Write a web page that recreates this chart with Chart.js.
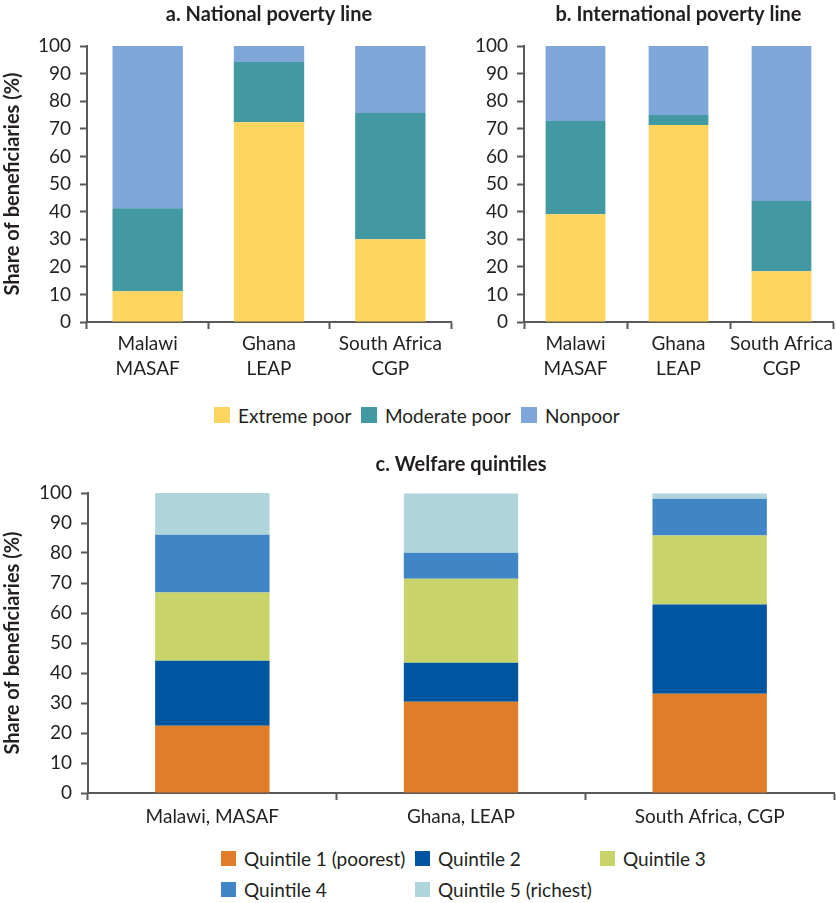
<!DOCTYPE html>
<html>
<head>
<meta charset="utf-8">
<script src="https://cdn.jsdelivr.net/npm/chart.js@4.4.0/dist/chart.umd.min.js"></script>
<style>
  body { margin: 0; background: #fff; }
  #page { position: relative; width: 836px; height: 903px; background: #fff; font-family: Lato, "Open Sans", sans-serif; color: #231f20; }
  canvas { position: absolute; }
  .leg { position: absolute; display: flex; align-items: center; font-size: 19px; white-space: nowrap; }
  .leg i { display: inline-block; margin-right: 8px; }
</style>
</head>
<body>
<div id="page">
  <canvas id="national" width="460" height="400" style="left:0;top:0"></canvas>
  <canvas id="international" width="376" height="400" style="left:460px;top:0"></canvas>
  <canvas id="quintiles" width="836" height="400" style="left:0;top:440px"></canvas>
</div>
<script>
// categories and values (percent of beneficiaries)
const programs = [['Malawi', 'MASAF'], ['Ghana', 'LEAP'], ['South Africa', 'CGP']];
const programsFlat = ['Malawi, MASAF', 'Ghana, LEAP', 'South Africa, CGP'];

const povertyGroups = ['Extreme poor', 'Moderate poor', 'Nonpoor'];
const povertyColors = ['#FDD55F', '#4399A1', '#7FA6D8'];

// a. national poverty line
const extremeNational = [11.1, 72.4, 30.0];
const moderateNational = [30.1, 21.8, 45.7];
const nonpoorNational = [58.8, 5.8, 24.3];

// b. international poverty line
const extremeIntl = [39.0, 71.4, 18.4];
const moderateIntl = [33.8, 3.6, 25.4];
const nonpoorIntl = [27.2, 25.0, 56.2];

// c. welfare quintiles
const quintileNames = ['Quintile 1 (poorest)', 'Quintile 2', 'Quintile 3', 'Quintile 4', 'Quintile 5 (richest)'];
const quintileColors = ['#E07D28', '#0055A0', '#C8D46A', '#4085C5', '#AFD4D9'];
const quintile1 = [22.4, 30.4, 33.1];
const quintile2 = [21.7, 13.0, 29.7];
const quintile3 = [22.7, 28.0, 23.0];
const quintile4 = [19.3, 8.7, 12.3];
const quintile5 = [13.9, 19.7, 1.7];

const yMin = 0, yMax = 100, yStep = 10;

const textColor = '#231f20';
const axisColor = '#595959';
Chart.defaults.font.family = 'Lato, "Open Sans", sans-serif';
Chart.defaults.color = textColor;

function stackedBar(id, labels, series, names, colors, cfg) {
    return new Chart(document.getElementById(id).getContext('2d'), {
        type: 'bar',
        data: {
            labels: labels,
            datasets: series.map((s, i) => ({
                label: names[i],
                data: s,
                backgroundColor: colors[i],
                borderWidth: 0,
                barPercentage: cfg.bar,
                categoryPercentage: 1
            }))
        },
        options: {
            responsive: false,
            animation: false,
            layout: { padding: { left: 0, right: cfg.padRight, top: 0, bottom: 0 } },
            plugins: {
                legend: { display: false },
                tooltip: { enabled: false },
                title: {
                    display: true,
                    text: cfg.title,
                    fullSize: false,
                    color: textColor,
                    font: { size: 20, weight: 'bold', lineHeight: 1.2 },
                    padding: { top: cfg.titleTop, bottom: cfg.titleBottom }
                }
            },
            scales: {
                x: {
                    stacked: true,
                    offset: true,
                    grid: { offset: true, drawOnChartArea: false, tickLength: 7, tickWidth: 2, tickColor: axisColor },
                    border: { color: axisColor, width: 2 },
                    ticks: { font: { size: 19, lineHeight: 1.34 }, color: textColor, padding: cfg.xPad, maxRotation: 0, autoSkip: false },
                    afterFit: s => { s.height = cfg.xHeight; }
                },
                y: {
                    stacked: true,
                    min: yMin,
                    max: yMax,
                    ticks: { stepSize: yStep, font: { size: 19 }, color: textColor, padding: 9 },
                    grid: { drawOnChartArea: false, tickLength: 7, tickWidth: 2, tickColor: axisColor },
                    border: { color: axisColor, width: 2 },
                    title: {
                        display: !!cfg.yTitle,
                        text: cfg.yTitle,
                        color: textColor,
                        font: { size: 20, weight: 'bold', lineHeight: 1.2 },
                        padding: { top: 1, bottom: 0 }
                    },
                    afterFit: s => { s.width = cfg.yWidth; }
                }
            }
        }
    });
}

stackedBar('national', programs, [extremeNational, moderateNational, nonpoorNational], povertyGroups, povertyColors, {
    title: 'a. National poverty line', yTitle: 'Share of beneficiaries (%)',
    bar: 0.58, padRight: 9, yWidth: 87, xHeight: 78, xPad: 2, titleTop: 3, titleBottom: 19
});

stackedBar('international', programs, [extremeIntl, moderateIntl, nonpoorIntl], povertyGroups, povertyColors, {
    title: 'b. International poverty line', yTitle: '',
    bar: 0.58, padRight: 3, yWidth: 64, xHeight: 78, xPad: 2, titleTop: 3, titleBottom: 19
});

stackedBar('quintiles', programsFlat, [quintile1, quintile2, quintile3, quintile4, quintile5], quintileNames, quintileColors, {
    title: 'c. Welfare quintiles', yTitle: 'Share of beneficiaries (%)',
    bar: 0.46, padRight: 2, yWidth: 88, xHeight: 47, xPad: 4, titleTop: 13, titleBottom: 16
});

// HTML legends
function addLegend(names, colors, spots, box) {
    const page = document.getElementById('page');
    names.forEach((n, i) => {
        const d = document.createElement('div');
        d.className = 'leg';
        d.style.left = spots[i][0] + 'px';
        d.style.top = spots[i][1] + 'px';
        d.style.height = box + 'px';
        const sw = document.createElement('i');
        sw.style.width = box + 'px';
        sw.style.height = box + 'px';
        sw.style.background = colors[i];
        d.appendChild(sw);
        d.appendChild(document.createTextNode(n));
        page.appendChild(d);
    });
}

addLegend(povertyGroups, povertyColors, [[214, 407], [361, 407], [521, 407]], 16);
addLegend(quintileNames, quintileColors, [[221, 851], [415, 851], [600, 851], [221, 882], [415, 882]], 15);
</script>
</body>
</html>
